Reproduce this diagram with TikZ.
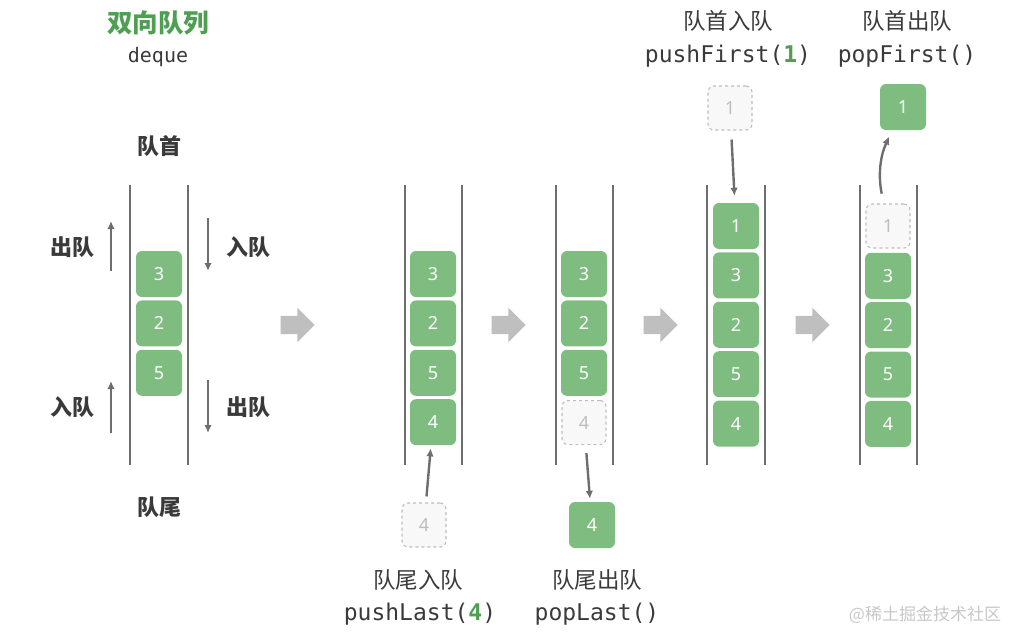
\documentclass[tikz,border=0pt]{standalone}
\usepackage{fontspec}
\usepackage{xcolor}
\setsansfont{Noto Sans}
\setmonofont{DejaVu Sans Mono}
\newfontfamily\cjk{Noto Sans CJK SC}
\usetikzlibrary{arrows.meta,positioning,shapes.arrows}
\definecolor{qgreen}{HTML}{7EBD7F}
\definecolor{qtitle}{HTML}{4E9F52}
\definecolor{ghostfill}{HTML}{F8F8F8}
\definecolor{ghostline}{HTML}{BDBDBD}
\definecolor{ink}{HTML}{3A3A3A}
\definecolor{arrowgray}{HTML}{6E6E6E}
\definecolor{blockgray}{HTML}{BFBFBF}
\newcommand{\sz}[1]{\fontsize{#1}{#1}\selectfont}

\begin{document}
\begin{tikzpicture}[x=1pt, y=-1pt, node distance=3pt, font=\cjk\sz{22.5}, text=ink,
   box/.style={fill=qgreen,text=white,rounded corners=6pt,minimum size=46pt,inner sep=0pt,font=\sffamily\sz{18}},
   ghost/.style={box,fill=ghostfill,draw=ghostline,dashed,line width=1.1pt,text=ghostline,minimum size=44pt},
   wall/.style={draw=arrowgray,line width=1.3pt},
   move/.style={draw=arrowgray,line width=2.4pt,-{Latex[length=8pt,width=7.5pt]}},
   go/.style={single arrow,fill=blockgray,minimum height=34pt,inner xsep=0pt,inner ysep=9pt,single arrow head extend=8pt},
   lab/.style={font=\cjk\bfseries\sz{22}},
   code/.style={font=\ttfamily\sz{23}}]
  \useasboundingbox (0,0) rectangle (1013,632);
  % deque overview
  \node[font=\cjk\bfseries\sz{25.5},text=qtitle] (title) at (158,23) {双向队列};
  \node[font=\ttfamily\sz{20}] (sub) at (158,57) {deque};
  \node[lab] (head) at (159,146) {队首};
  \node[lab] (tail) at (159,507) {队尾};
  \draw[wall] (130,185) -- (130,465);
  \draw[wall] (188,185) -- (188,465);
  \node[box] (a3) at (159,274) {3};
  \node[box,below=of a3] (a2) {2};
  \node[box,below=of a2] (a5) {5};
  \node[lab] (outhead) at (72,247) {出队};
  \node[lab] (intail) at (72,407) {入队};
  \node[lab] (inhead) at (248,247) {入队};
  \node[lab] (outtail) at (248,407) {出队};
  \coordinate (u1a) at (111,271); \coordinate (u1b) at (111,221);
  \coordinate (u2a) at (111,433); \coordinate (u2b) at (111,381);
  \coordinate (d1a) at (208,218); \coordinate (d1b) at (208,271);
  \coordinate (d2a) at (208,380); \coordinate (d2b) at (208,433);
  \draw[move] (u1a) -- (u1b);
  \draw[move] (u2a) -- (u2b);
  \draw[move] (d1a) -- (d1b);
  \draw[move] (d2a) -- (d2b);
  \node[go] (go1) at (293,325) {};
  % pushLast
  \draw[wall] (405,185) -- (405,465);
  \draw[wall] (462,185) -- (462,465);
  \node[box] (b3) at (433,274) {3};
  \node[box,below=of b3] (b2) {2};
  \node[box,below=of b2] (b5) {5};
  \node[box,below=of b5] (b4) {4};
  \node[ghost] (bg4) at (424,525) {4};
  \draw[move,shorten <=6pt,shorten >=3pt] (bg4) -- (b4);
  \node (bt) at (418,580) {队尾入队};
  \node[code] (bc) at (420,614) {pushLast(\textbf{\color{qtitle}4})};
  \node[go] (go2) at (504,325) {};
  % popLast
  \draw[wall] (556,185) -- (556,465);
  \draw[wall] (613,185) -- (613,465);
  \node[box] (c3) at (584,274) {3};
  \node[box,below=of c3] (c2) {2};
  \node[box,below=of c2] (c5) {5};
  \node[ghost,below=4pt of c5] (cg4) {4};
  \node[box] (c4) at (592,525) {4};
  \draw[move,shorten <=8pt,shorten >=3pt] (cg4) -- (c4);
  \node (ct) at (597,580) {队尾出队};
  \node[code] (cc) at (597,614) {popLast()};
  \node[go] (go3) at (656,325) {};
  % pushFirst
  \draw[wall] (707,185) -- (707,465);
  \draw[wall] (765,185) -- (765,465);
  \node[box] (d1) at (736,226) {1};
  \node[box,below=of d1] (d3) {3};
  \node[box,below=of d3] (d2) {2};
  \node[box,below=of d2] (d5) {5};
  \node[box,below=of d5] (d4) {4};
  \node[ghost] (dg1) at (730,108) {1};
  \draw[move,shorten <=9pt,shorten >=7pt] (dg1) -- (d1);
  \node (dt) at (728,21) {队首入队};
  \node[code] (dc) at (728,56) {pushFirst(\textbf{\color{qtitle}1})};
  \node[go] (go4) at (808,325) {};
  % popFirst
  \draw[wall] (860,185) -- (860,465);
  \draw[wall] (917,185) -- (917,465);
  \node[ghost] (eg1) at (888,226) {1};
  \node[box,below=4pt of eg1] (e3) {3};
  \node[box,below=of e3] (e2) {2};
  \node[box,below=of e2] (e5) {5};
  \node[box,below=of e5] (e4) {4};
  \node[box] (e1) at (903,107) {1};
  \draw[move,shorten <=10pt,shorten >=7pt] (eg1) to[bend left=18] (e1);
  \node (et) at (907,21) {队首出队};
  \node[code] (ec) at (907,56) {popFirst()};
  \node[font=\cjk\sz{17},text=black!22] (mark) at (925,615) {@稀土掘金技术社区};
\end{tikzpicture}
\end{document}
